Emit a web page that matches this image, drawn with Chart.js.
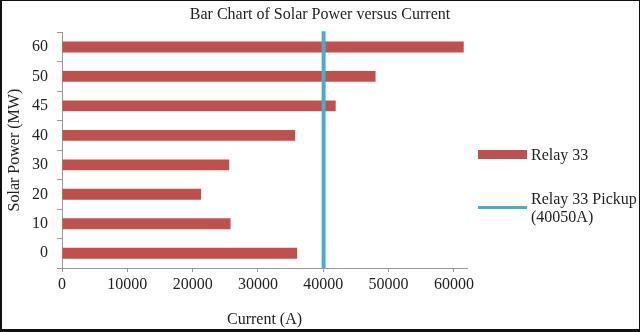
<!DOCTYPE html>
<html>
<head>
<meta charset="utf-8">
<script src="https://cdn.jsdelivr.net/npm/chart.js@4/dist/chart.umd.min.js"></script>
<style>
  html, body { margin: 0; padding: 0; background: #fff; }
  #wrap { position: relative; width: 640px; height: 332px; overflow: hidden; }
  #frame { position: absolute; left: 0; top: 0; width: 640px; height: 332px; box-sizing: border-box;
           border-top: 1px solid #111; border-left: 2px solid #111; border-right: 1px solid #111; border-bottom: 3px solid #111; pointer-events: none; }
  .lg { position: absolute; font-family: "Liberation Serif", "DejaVu Serif", serif; font-size: 16px; color: #222; line-height: 18px; white-space: nowrap; }
  .sw { position: absolute; }
</style>
</head>
<body>
<div id="wrap">
  <canvas id="c" width="640" height="332"></canvas>
  <div class="sw" style="left:478px; top:150px; width:49px; height:9px; background:#C0504D;"></div>
  <div class="lg" style="left:531px; top:146px;">Relay 33</div>
  <div class="sw" style="left:478px; top:206px; width:49px; height:3px; background:#4BACC6;"></div>
  <div class="lg" style="left:531px; top:190px;">Relay 33 Pickup<br>(40050A)</div>
  <div id="frame"></div>
</div>
<script>
const categories = ['0', '10', '20', '30', '40', '45', '50', '60'];
const currentValues = [36000, 25800, 21300, 25600, 35700, 41900, 48000, 61500];
const pickupCurrent = [40050];
const xTickValues = [0, 10000, 20000, 30000, 40000, 50000, 60000];

const serif = '"Liberation Serif", "DejaVu Serif", serif';

const pickupLine = {
  id: 'pickupLine',
  afterDatasetsDraw(chart) {
    const { ctx, chartArea, scales } = chart;
    const x = scales.x.getPixelForValue(pickupCurrent[0]);
    ctx.save();
    ctx.strokeStyle = '#4BACC6';
    ctx.lineWidth = 4;
    ctx.beginPath();
    ctx.moveTo(x, chartArea.top - 1);
    ctx.lineTo(x, chartArea.bottom);
    ctx.stroke();
    ctx.restore();
  }
};

new Chart(document.getElementById('c'), {
  type: 'bar',
  data: {
    labels: categories,
    datasets: [{
      label: 'Relay 33',
      data: currentValues,
      backgroundColor: '#C0504D',
      borderWidth: 0,
      barPercentage: 0.37,
      categoryPercentage: 1.0
    }]
  },
  options: {
    indexAxis: 'y',
    responsive: false,
    animation: false,
    layout: { padding: 0 },
    plugins: {
      legend: { display: false },
      tooltip: { enabled: false },
      title: {
        display: true,
        text: 'Bar Chart of Solar Power versus Current',
        color: '#222',
        font: { family: serif, size: 16, weight: 'normal', lineHeight: 1.2 },
        padding: { top: 5, bottom: 8 }
      }
    },
    scales: {
      x: {
        type: 'linear',
        min: 0,
        max: 62000,
        afterBuildTicks(scale) { scale.ticks = xTickValues.map(v => ({ value: v })); },
        afterFit(scale) { scale.height = 64; },
        grid: { drawOnChartArea: false, drawTicks: true, tickLength: 4, color: '#999' },
        border: { color: '#999', width: 1 },
        ticks: {
          color: '#222', font: { family: serif, size: 16 }, padding: 3, maxRotation: 0, autoSkip: false,
          callback: v => String(v)
        },
        title: {
          display: true, text: 'Current (A)', color: '#222',
          font: { family: serif, size: 16, lineHeight: 1.2 },
          padding: { top: 0, bottom: 3 }
        }
      },
      y: {
        type: 'category',
        reverse: true,
        afterFit(scale) { scale.width = 62; },
        grid: { offset: true, drawOnChartArea: false, drawTicks: true, tickLength: 5, color: '#999' },
        border: { color: '#999', width: 1 },
        ticks: { color: '#222', font: { family: serif, size: 16 }, padding: 9 },
        title: {
          display: true, text: 'Solar Power (MW)', color: '#222',
          font: { family: serif, size: 16, lineHeight: 1.2 },
          padding: { top: 5, bottom: 0 }
        }
      },
      legendSpace: {
        type: 'linear',
        position: 'right',
        axis: 'y',
        display: true,
        afterFit(scale) { scale.width = 173; },
        grid: { display: false, drawTicks: false },
        border: { display: false },
        ticks: { display: false }
      }
    }
  },
  plugins: [pickupLine]
});
</script>
</body>
</html>
